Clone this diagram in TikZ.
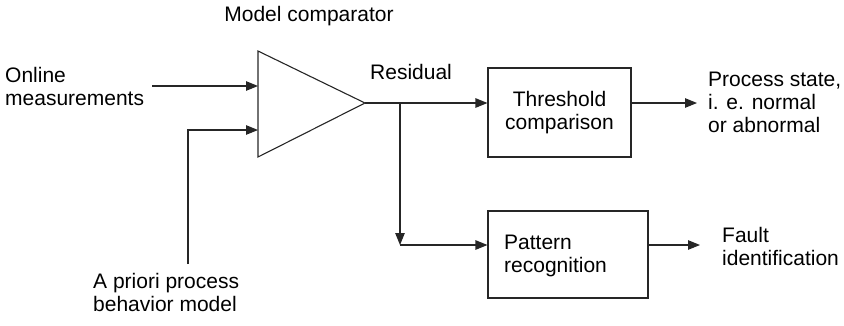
\documentclass[tikz,border=0pt]{standalone}
\usepackage{fontspec}
\setmainfont{Liberation Sans}
\usetikzlibrary{arrows.meta,calc}
\begin{document}
\begin{tikzpicture}[x=1pt,y=-1pt,
  every node/.style={font=\fontsize{21}{23}\selectfont, inner sep=0pt},
  wire/.style={line width=1.1pt, draw=black!85},
  arr/.style={wire, -{Triangle[length=12pt,width=9.5pt]}},
  blockbox/.style={draw=black!85, line width=1.1pt, rectangle},
  lbl/.style={anchor=west, align=left}]
\useasboundingbox (0,0) rectangle (844,325);

% comparator triangle
\coordinate (cmpTop) at (258,51);
\coordinate (cmpBot) at (258,157);
\coordinate (cmpOut) at (365,103);
\coordinate (inA) at (258,86);
\coordinate (inB) at (258,130);
\draw[wire] (cmpTop) -- (cmpOut) -- (cmpBot) -- cycle;
\node (cmpLbl) at (309,16) {Model comparator};

% blocks
\node[blockbox, minimum width=143pt, minimum height=89pt, align=center] (thr) at (559.5,112.5) {Threshold\\comparison};
\node[blockbox, minimum width=160pt, minimum height=87pt] (pat) at (568,254.5) {};
\node[lbl, align=left] (patTxt) at (504,256) {Pattern\\recognition};

% labels
\node[lbl] (online) at (5,86) {Online\\measurements};
\coordinate (onlineEnd) at (152,86);
\node[lbl] (apriori) at (93,292) {A priori process\\behavior model};
\coordinate (aprioriTop) at (188,264);
\node[lbl] (resid) at (370,72) {Residual};
\node[lbl] (state) at (708,102) {Process state,\\i. e. normal\\or abnormal};
\node[lbl] (fault) at (722,246) {Fault\\identification};

% connectors
\draw[arr] (onlineEnd) -- (inA);
\draw[arr] (aprioriTop) -- (188,130) -- (inB);
\coordinate (branch) at (400,103);
\coordinate (corner) at (400,245);
\draw[arr] (cmpOut) -- (thr.west |- cmpOut);
\draw[arr] (branch) -- (corner);
\draw[arr] (corner) -- (pat.west |- corner);
\draw[arr] (thr.east |- cmpOut) -- (697,103);
\draw[arr] (pat.east |- corner) -- (700,245);
\end{tikzpicture}
\end{document}
